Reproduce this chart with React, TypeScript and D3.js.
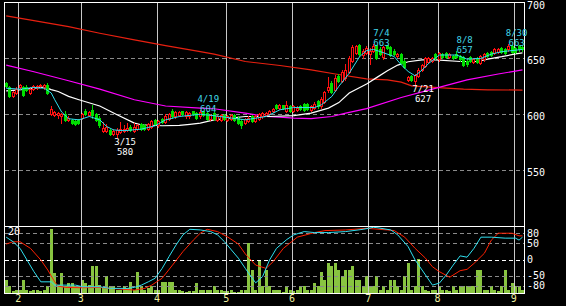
import React from 'react';
import * as d3 from 'd3';

const W = 566;
const H = 306;

// month labels and the candle index where each month begins
const monthLabels = ['2', '3', '4', '5', '6', '7', '8', '9'];
const monthStartIdx = [4, 22, 44, 64, 83, 105, 125, 147];

const priceTicks = [700, 650, 600, 550];
const oscTicks = [80, 50, 0, -50, -80];

// daily candles: [open, high, low, close]
const ohlc: [number, number, number, number][] = [
  [628, 629, 624, 625], [624, 625, 615, 616], [616, 621, 615, 620], [619, 624, 618, 623],
  [624, 627, 623, 626], [624, 625, 616, 617], [624, 626, 621, 622], [619, 624, 618, 623],
  [623, 626, 622, 625], [624, 626, 623, 625], [625, 627, 624, 626], [624, 627, 623, 626],
  [626, 628, 618, 619], [600, 607, 599, 605], [599, 603, 598, 602], [599, 602, 597, 601],
  [598, 601, 592, 600], [600, 603, 594, 595], [595, 598, 594, 597], [595, 596, 591, 592],
  [594, 595, 590, 591], [595, 596, 591, 592], [597, 601, 596, 600], [603, 605, 599, 600],
  [599, 603, 598, 602], [604, 608, 597, 599], [600, 601, 594, 595], [597, 598, 589, 590],
  [585, 593, 584, 588], [585, 591, 584, 589], [586, 587, 581, 582], [582, 587, 581, 585],
  [582, 588, 580, 586], [584, 593, 583, 587], [585, 590, 584, 587], [586, 592, 585, 588],
  [589, 590, 585, 586], [585, 592, 584, 589], [587, 591, 586, 590], [591, 592, 586, 587],
  [590, 591, 586, 587], [587, 592, 586, 591], [589, 595, 588, 594], [595, 596, 590, 591],
  [590, 595, 589, 594], [596, 597, 592, 593], [593, 600, 592, 598], [596, 601, 595, 600],
  [603, 605, 597, 598], [598, 603, 597, 602], [599, 603, 598, 602], [603, 603, 599, 600],
  [598, 603, 597, 602], [598, 602, 597, 601], [603, 603, 599, 600], [601, 602, 596, 597],
  [598, 604, 597, 602], [603, 603, 598, 599], [601, 602, 595, 596], [596, 600, 595, 599],
  [601, 602, 595, 596], [595, 599, 594, 598], [595, 600, 594, 599], [599, 600, 595, 596],
  [595, 599, 594, 598], [596, 600, 595, 599], [599, 600, 594, 595], [597, 598, 591, 592],
  [594, 596, 588, 590], [592, 597, 591, 596], [594, 598, 593, 597], [598, 599, 593, 594],
  [594, 599, 593, 598], [596, 601, 595, 600], [598, 602, 597, 601], [599, 602, 598, 601],
  [600, 604, 599, 603], [603, 606, 602, 605], [608, 609, 605, 606], [606, 609, 605, 608],
  [608, 608, 605, 606], [603, 612, 602, 608], [607, 608, 602, 603], [603, 608, 602, 607],
  [604, 607, 603, 606], [607, 608, 604, 605], [609, 610, 603, 604], [609, 610, 604, 605],
  [604, 608, 603, 607], [606, 611, 605, 609], [612, 613, 606, 607], [607, 615, 606, 614],
  [611, 621, 610, 620], [622, 633, 620, 624], [628, 630, 619, 620], [622, 635, 621, 632],
  [634, 636, 629, 630], [630, 640, 629, 638], [632, 645, 631, 640], [638, 652, 637, 650],
  [648, 662, 647, 660], [655, 662, 654, 661], [662, 663, 652, 654], [653, 658, 650, 657],
  [655, 661, 654, 659], [654, 659, 645, 657], [657, 663, 656, 661], [662, 662, 649, 650],
  [658, 660, 653, 654], [651, 661, 649, 660], [662, 662, 658, 659], [660, 661, 652, 653],
  [657, 658, 653, 654], [652, 655, 651, 654], [654, 655, 645, 646], [648, 649, 641, 642],
  [631, 634, 630, 633], [634, 635, 630, 631], [630, 636, 627, 635], [634, 641, 633, 640],
  [640, 645, 639, 644], [643, 651, 642, 650], [647, 651, 646, 650], [648, 651, 647, 650],
  [654, 655, 649, 650], [649, 656, 648, 655], [654, 655, 650, 651], [655, 656, 650, 651],
  [651, 655, 650, 654], [652, 653, 649, 650], [654, 657, 650, 651], [652, 653, 648, 649],
  [651, 652, 643, 644], [648, 649, 643, 645], [651, 652, 647, 648], [647, 650, 646, 649],
  [650, 651, 646, 647], [646, 653, 645, 652], [649, 655, 648, 654], [655, 656, 651, 652],
  [656, 657, 652, 653], [655, 659, 654, 658], [656, 659, 655, 658], [659, 660, 655, 656],
  [658, 659, 654, 655], [658, 663, 657, 661], [661, 662, 655, 656], [659, 660, 655, 656],
  [661, 662, 657, 658], [660, 661, 657, 658],
];

const volume = [
  4.0, 2.1, 0.5, 1, 1, 4, 1, 0.5, 1, 1, 0.5, 1, 2.1, 19.6, 6.1, 2.5, 6.1, 2, 3, 3,
  2, 2, 4, 3, 2.5, 8.3, 8.3, 2.5, 1.5, 5.2, 2, 2.1, 1, 1, 2, 1.5, 3.3, 1, 6.3, 2,
  1, 1.5, 2, 1, 1, 3.3, 3.3, 3.3, 3.3, 1, 1, 0.5, 0.3, 0.5, 0.5, 3.2, 1, 1, 1, 1,
  2.2, 1, 1, 0.5, 0.5, 1, 0.3, 0.3, 1, 1, 15.3, 7.1, 1, 10.2, 2.2, 7.1, 2.2, 1, 1, 1,
  0.3, 2.2, 1, 0.5, 1, 2.2, 2, 1, 1, 3, 2.2, 6.3, 4.1, 9.2, 8.4, 9.2, 7.1, 5.3, 7.1, 7.1,
  8.4, 4.1, 4.1, 2.2, 5.3, 2.2, 2.2, 5.3, 1, 2.2, 1, 4.1, 4.1, 2.2, 1, 5.3, 9.2, 1, 2.2, 10.4,
  2.2, 1, 0.5, 1, 1, 2.2, 1, 1, 0.5, 2.2, 1, 2.2, 2.2, 2.2, 2.2, 2.2, 7.1, 7.1, 1, 1,
  2.2, 1, 0.5, 2.2, 7.1, 1, 3, 2.2, 2.2, 1,
];

// moving averages, read as [candle index, price]
const maShort: [number, number][] = [
  [0, 623.3], [4, 622.4], [8, 624], [11, 623.3], [13, 619], [14, 613], [16, 602], [18, 596],
  [21, 595], [24, 598], [27, 595], [29, 589], [31, 586], [34, 585.3], [39, 586.7], [43, 589.7],
  [46, 595], [50, 598], [56, 600], [60, 598.7], [65, 596.6], [69, 595], [75, 598], [79, 604],
  [83, 606], [89, 606], [91, 608.5], [94, 616], [96, 625], [99, 636.8], [102, 651.6], [104, 657],
  [106, 658], [108, 656], [112, 651.6], [114, 644.2], [116, 638.3], [118, 634.4], [120, 639.5],
  [122, 645.7], [125, 653], [130, 653], [133, 649.3], [137, 650], [140, 653.8], [143, 656], [149, 658],
];
const maMid: [number, number][] = [
  [0, 621], [3, 621.5], [8, 623.3], [11, 624.2], [13, 622], [15, 620.4], [18, 616], [21, 613],
  [27, 607.4], [32, 599.6], [37, 592.1], [39, 590.6], [45, 589.7], [50, 590], [53, 591], [56, 592],
  [60, 595], [69, 598], [76, 598], [83, 598.7], [88, 601], [93, 605.5], [96, 610.4], [99, 619],
  [104, 627], [107, 633], [110, 639], [113, 644], [116, 647], [120, 648.7], [124, 648.7],
  [131, 647.2], [136, 647.2], [139, 649.3], [143, 651.5], [147, 654], [149, 655],
];
const maLong: [number, number][] = [
  [0, 644], [8, 638], [18, 630], [27, 622.5], [37, 613], [46, 607.4], [56, 605.5], [60, 604.9],
  [69, 601], [75, 598], [79, 597.5], [83, 596.6], [88, 596], [94, 598], [98, 601], [104, 605],
  [114, 615], [123, 622.5], [133, 630.8], [142, 636], [149, 639.7],
];
const maVeryLong: [number, number][] = [
  [0, 688], [8, 683.7], [18, 678.4], [27, 672.5], [37, 666.5], [46, 661.4], [56, 656], [60, 653.8],
  [69, 647.2], [79, 643.6], [88, 639.7], [95, 636], [104, 631.7], [110, 630.8], [114, 628.7],
  [117, 625.4], [127, 623.3], [132, 622.5], [139, 621.9], [149, 621.6],
];

// oscillator lines, [candle index, value]
const oscFast: [number, number][] = [
  [0, 68], [2, 54], [4, 34], [6, -1.5], [8, -37], [10, -68], [13, -68], [14, -78], [20, -78],
  [22, -83], [27, -83], [30, -88], [35, -88], [37, -85], [39, -78], [41, -68], [43, -57], [45, -27],
  [47, 9], [49, 44], [51, 75], [53, 92], [56, 90], [59, 85], [61, 75], [63, 54], [65, 29], [67, 4],
  [69, -27], [71, -57], [72, -71], [74, -52], [76, -1.5], [78, 34], [81, 61], [83, 75], [86, 85],
  [89, 82], [93, 82], [98, 85], [103, 92], [106, 98], [107, 97], [111, 90], [113, 75], [116, 39],
  [118, -1.5], [121, -47], [123, -78], [125, -72], [127, -47], [129, -17], [131, 11], [133, 7],
  [135, 34], [137, 68], [140, 68], [144, 65], [147, 65], [148, 59], [149, 68],
];
const oscSlow: [number, number][] = [
  [0, 47], [2, 54], [4, 54], [7, 34], [10, -1.5], [12, -32], [14, -68], [15, -81], [17, -85],
  [22, -86], [27, -85], [30, -88], [37, -93], [40, -88], [42, -78], [45, -57], [48, -17], [51, 24],
  [54, 59], [56, 80], [58, 92], [61, 85], [64, 68], [67, 47], [69, 17], [72, -17], [75, -27],
  [77, -7], [80, 34], [84, 68], [89, 82], [92, 88], [98, 90], [104, 95], [110, 90], [112, 88],
  [115, 68], [118, 34], [121, 4], [123, -22], [125, -37], [128, -54], [131, -34], [133, -30],
  [135, -12], [138, 19], [140, 59], [142, 80], [146, 80], [148, 72], [149, 72],
];

const annotations = [
  { i: 32, date: '3/15', value: 580, kind: 'low' },
  { i: 56, date: '4/19', value: 604, kind: 'high' },
  { i: 106, date: '7/4', value: 663, kind: 'high' },
  { i: 118, date: '7/21', value: 627, kind: 'low' },
  { i: 130, date: '8/8', value: 657, kind: 'high' },
  { i: 145, date: '8/30', value: 663, kind: 'high' },
];

const FONT = "'DejaVu Sans Mono', monospace";

export default function App() {
  const x = d3.scaleLinear().domain([0, ohlc.length - 1]).range([6.2, 522.5]);
  const yP = d3.scaleLinear().domain([500, 700]).range([226, 2.5]);
  const yO = d3.scaleLinear().domain([-102, 102]).range([293, 226]);
  const yV = d3.scaleLinear().domain([0, 20.5]).range([293, 226]);

  const priceLine = d3.line<[number, number]>().x((d) => x(d[0])).y((d) => yP(d[1]));
  const oscLine = d3.line<[number, number]>().x((d) => x(d[0])).y((d) => yO(d[1]));

  const left = 4.5, right = 524.5, top = 2.5, sep = 226.5, bottom = 293.5;

  return (
    <div style={{ position: 'absolute', left: 0, top: 0 }}>
      <svg width={W} height={H} style={{ display: 'block', background: '#000' }}>
        <rect x={0} y={0} width={W} height={H} fill="#000" />

        {/* volume bars */}
        <g shapeRendering="crispEdges">
          {volume.map((v, i) => {
            const l = Math.round(x(i) - 1.5);
            const yt = Math.round(yV(v));
            return <rect key={'v' + i} x={l} y={yt} width={3} height={Math.max(1, 293 - yt)} fill="#88c440" />;
          })}
        </g>

        {/* horizontal grid */}
        <g shapeRendering="crispEdges">
          {priceTicks.filter((t) => t < 700).map((t) => (
            <line key={'pg' + t} x1={left} x2={right} y1={Math.round(yP(t)) + 0.5} y2={Math.round(yP(t)) + 0.5}
              stroke="#8a8a8a" strokeDasharray="4,3" />
          ))}
          {oscTicks.map((t) => (
            <line key={'og' + t} x1={left} x2={right} y1={Math.round(yO(t)) + 0.5} y2={Math.round(yO(t)) + 0.5}
              stroke={t === 0 ? '#ffffff' : '#8a8a8a'} strokeDasharray="4,3" />
          ))}
        </g>

        {/* vertical month grid */}
        <g shapeRendering="crispEdges">
          {monthStartIdx.map((m, k) => (
            <line key={'mg' + k} x1={Math.round(x(m - 0.5)) + 0.5} x2={Math.round(x(m - 0.5)) + 0.5}
              y1={top} y2={bottom} stroke="#c8c8c8" />
          ))}
        </g>

        {/* oscillator */}
        <path d={oscLine(oscSlow) || ''} fill="none" stroke="#ff2000" strokeWidth={1} />
        <path d={oscLine(oscFast) || ''} fill="none" stroke="#30e0f0" strokeWidth={1} />

        {/* moving averages */}
        <path d={priceLine(maVeryLong) || ''} fill="none" stroke="#e82010" strokeWidth={1.2} />
        <path d={priceLine(maLong) || ''} fill="none" stroke="#ff00ff" strokeWidth={1.2} />
        <path d={priceLine(maMid) || ''} fill="none" stroke="#ffffff" strokeWidth={1.2} />

        {/* candles */}
        <g shapeRendering="crispEdges">
          {ohlc.map(([o, h, l, c], i) => {
            const lx = Math.round(x(i) - 1.5);
            const cx = lx + 1.5;
            const up = c >= o;
            const yTop = Math.round(yP(Math.max(o, c)));
            const yBot = Math.round(yP(Math.min(o, c)));
            const col = up ? '#ff1010' : '#00dd00';
            return (
              <g key={'c' + i}>
                <line x1={cx} x2={cx} y1={Math.round(yP(h))} y2={Math.round(yP(l)) + 1} stroke={col} />
                {up ? (
                  <rect x={lx + 0.5} y={yTop + 0.5} width={2} height={Math.max(1, yBot - yTop)} fill="#000" stroke={col} />
                ) : (
                  <rect x={lx} y={yTop} width={3} height={Math.max(1, yBot - yTop + 1)} fill={col} />
                )}
              </g>
            );
          })}
        </g>

        <path d={priceLine(maShort) || ''} fill="none" stroke="#30e0f0" strokeWidth={1} />

        {/* frame */}
        <g shapeRendering="crispEdges" stroke="#ffffff" fill="none">
          <rect x={left} y={top} width={right - left} height={bottom - top} />
          <line x1={left} x2={right} y1={sep} y2={sep} />
        </g>

        {/* right axis labels */}
        <g fontFamily={FONT} fontSize={10} fill="#ffffff">
          {priceTicks.map((t) => (
            <text key={'pt' + t} x={527} y={yP(t) + 6}>{t}</text>
          ))}
          {oscTicks.map((t) => (
            <text key={'ot' + t} x={527} y={yO(t) + 3.5}>{t}</text>
          ))}
          <text x={8} y={234.5}>20</text>
        </g>

        {/* month labels */}
        <g fontFamily={FONT} fontSize={10} fill="#f0f0a0" textAnchor="middle">
          {monthStartIdx.map((m, k) => (
            <text key={'ml' + k} x={x(m - 0.5)} y={302}>{monthLabels[k]}</text>
          ))}
        </g>

        {/* high / low annotations */}
        <g fontFamily={FONT} fontSize={9} textAnchor="middle">
          {annotations.map((a) => {
            const ax = x(a.i) + 8;
            const ay = yP(a.value);
            const fill = a.kind === 'high' ? '#40d8e8' : '#ffffff';
            const y1 = a.kind === 'high' ? ay - 8 : ay + 8;
            const y2 = a.kind === 'high' ? ay + 2 : ay + 18;
            return (
              <g key={'a' + a.date} fill={fill}>
                <text x={ax} y={y1}>{a.date}</text>
                <text x={ax} y={y2}>{a.value}</text>
              </g>
            );
          })}
        </g>
      </svg>
    </div>
  );
}
